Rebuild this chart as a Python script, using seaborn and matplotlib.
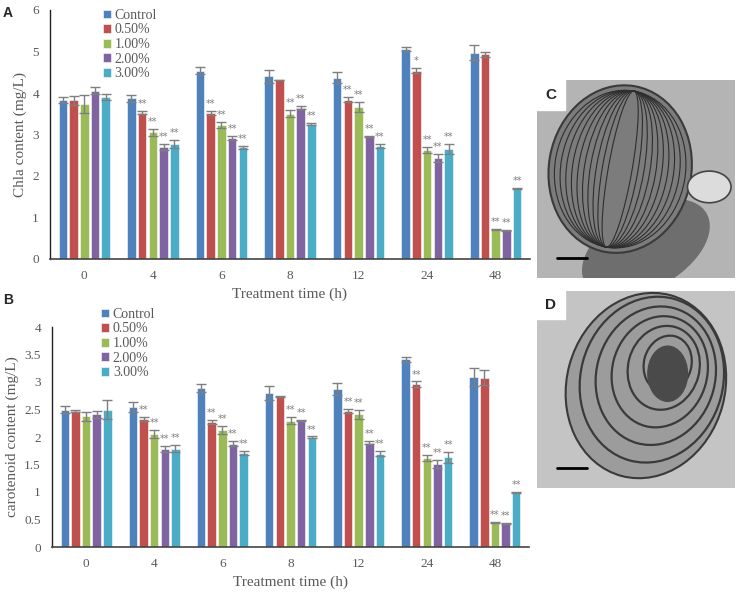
import numpy as np
import pandas as pd
import matplotlib
matplotlib.use("Agg")
import matplotlib.pyplot as plt
from matplotlib.patches import Ellipse, Rectangle
import seaborn as sns

# ---------------- data ----------------
times = ["0", "4", "6", "8", "12", "24", "48"]
groups = ["Control", "0.50%", "1.00%", "2.00%", "3.00%"]
colors = ["#4F81BD", "#C0504D", "#9BBB59", "#8064A2", "#4BACC6"]

chla_control = [3.83, 3.87, 4.54, 4.40, 4.37, 5.06, 4.97]
chla_050 = [3.82, 3.53, 3.51, 4.32, 3.84, 4.54, 4.93]
chla_100 = [3.74, 3.05, 3.23, 3.50, 3.67, 2.63, 0.72]
chla_200 = [4.06, 2.70, 2.91, 3.65, 2.95, 2.43, 0.69]
chla_300 = [3.90, 2.77, 2.69, 3.26, 2.73, 2.65, 1.70]

chla_err_control = [0.08, 0.09, 0.08, 0.15, 0.13, 0.04, 0.18]
chla_err_050 = [0.10, 0.04, 0.05, 0.00, 0.06, 0.06, 0.07]
chla_err_100 = [0.22, 0.08, 0.08, 0.08, 0.12, 0.08, 0.01]
chla_err_200 = [0.09, 0.08, 0.05, 0.03, 0.02, 0.10, 0.01]
chla_err_300 = [0.07, 0.09, 0.03, 0.02, 0.05, 0.12, 0.01]

car_control = [2.50, 2.55, 2.89, 2.80, 2.87, 3.41, 3.09]
car_050 = [2.47, 2.33, 2.27, 2.74, 2.47, 2.96, 3.08]
car_100 = [2.38, 2.06, 2.13, 2.30, 2.41, 1.62, 0.44]
car_200 = [2.41, 1.78, 1.88, 2.30, 1.90, 1.51, 0.43]
car_300 = [2.50, 1.79, 1.71, 2.00, 1.70, 1.63, 0.99]

car_err_control = [0.07, 0.09, 0.08, 0.12, 0.11, 0.04, 0.17]
car_err_050 = [0.02, 0.04, 0.04, 0.01, 0.04, 0.05, 0.13]
car_err_100 = [0.08, 0.07, 0.07, 0.07, 0.08, 0.06, 0.01]
car_err_200 = [0.06, 0.06, 0.05, 0.01, 0.02, 0.08, 0.01]
car_err_300 = [0.17, 0.07, 0.03, 0.01, 0.04, 0.10, 0.01]

sig_A_control = ["", "", "", "", "", "", ""]
sig_A_050 = ["", "**", "**", "", "**", "*", ""]
sig_A_100 = ["", "**", "**", "**", "**", "**", "**"]
sig_A_200 = ["", "**", "**", "**", "**", "**", "**"]
sig_A_300 = ["", "**", "**", "**", "**", "**", "**"]

sig_B_control = ["", "", "", "", "", "", ""]
sig_B_050 = ["", "**", "**", "", "**", "**", ""]
sig_B_100 = ["", "**", "**", "**", "**", "**", "**"]
sig_B_200 = ["", "**", "**", "**", "**", "**", "**"]
sig_B_300 = ["", "**", "**", "**", "**", "**", "**"]

chla_vals = [chla_control, chla_050, chla_100, chla_200, chla_300]
chla_errs = [chla_err_control, chla_err_050, chla_err_100, chla_err_200, chla_err_300]
car_vals = [car_control, car_050, car_100, car_200, car_300]
car_errs = [car_err_control, car_err_050, car_err_100, car_err_200, car_err_300]
sig_A = [sig_A_control, sig_A_050, sig_A_100, sig_A_200, sig_A_300]
sig_B = [sig_B_control, sig_B_050, sig_B_100, sig_B_200, sig_B_300]

# ---------------- style ----------------
sns.set_theme(style="white")
plt.rcParams["font.family"] = ["Liberation Serif", "DejaVu Serif"]
GRAY = "#595959"

W, H = 737, 597
fig = plt.figure(figsize=(W / 100, H / 100), dpi=100)


def frac_axes(x0, y0, x1, y1):
    return fig.add_axes([x0 / W, 1 - y1 / H, (x1 - x0) / W, (y1 - y0) / H])


def draw_panel(ax, vals, errs, sigs, ylim, yticks, ylabel, legend_anchor):
    rows = []
    for g, v in zip(groups, vals):
        for t, y in zip(times, v):
            rows.append({"time": t, "group": g, "value": y})
    df = pd.DataFrame(rows)
    sns.barplot(data=df, x="time", y="value", hue="group", order=times,
                hue_order=groups, palette=colors, errorbar=None,
                width=0.78, gap=0.2, saturation=1, ax=ax,
                edgecolor="white", linewidth=0.4)
    for cont, e, s in zip(ax.containers, errs, sigs):
        xs = [b.get_x() + b.get_width() / 2 for b in cont]
        ys = [b.get_height() for b in cont]
        ax.errorbar(xs, ys, yerr=e, fmt="none", ecolor="#7f7f7f",
                    elinewidth=1, capsize=3.3, capthick=1, zorder=5)
        for x, y, ee, txt in zip(xs, ys, e, s):
            if txt:
                ax.annotate(txt, (x, y + ee), xytext=(0, 5),
                            textcoords="offset points", ha="center",
                            va="center", fontsize=7, color="#7f7f7f",
                            family="DejaVu Sans")
    ax.set_xlim(-0.5, len(times) - 0.5)
    ax.set_ylim(*ylim)
    ax.set_yticks(yticks)
    ax.set_yticklabels([f"{t:g}" for t in yticks])
    ax.tick_params(axis="both", length=0, labelsize=9.5, colors=GRAY, pad=8)
    ax.set_xlabel("Treatment time (h)", fontsize=11, color=GRAY, labelpad=4)
    ax.set_ylabel(ylabel, fontsize=11, color=GRAY, labelpad=4)
    for sp in ["top", "right"]:
        ax.spines[sp].set_visible(False)
    ax.spines["left"].set_color("#222222")
    ax.spines["bottom"].set_color("#444444")
    ax.spines["left"].set_linewidth(1.0)
    ax.spines["bottom"].set_linewidth(1.2)
    leg = ax.legend(loc="upper left", bbox_to_anchor=legend_anchor,
                    bbox_transform=fig.transFigure, frameon=False,
                    fontsize=10, handlelength=0.6, handleheight=0.6,
                    handletextpad=0.25, labelspacing=0.11, borderpad=0)
    for t in leg.get_texts():
        t.set_color(GRAY)


axA = frac_axes(50, 10, 530, 259)
draw_panel(axA, chla_vals, chla_errs, sig_A, (0, 6), [0, 1, 2, 3, 4, 5, 6],
           "Chla content (mg/L)", (96 / W, 1 - 2 / H))

axB = frac_axes(52, 327, 529, 547)
draw_panel(axB, car_vals, car_errs, sig_B, (0, 4),
           [0, 0.5, 1, 1.5, 2, 2.5, 3, 3.5, 4],
           "carotenoid content (mg/L)", (94 / W, 1 - 301 / H))

fig.text(3 / W, 1 - 13 / H, "A", fontsize=10, fontweight="bold",
         family="Liberation Sans", va="center", ha="left")
fig.text(3 / W, 1 - 300 / H, "B", fontsize=10, fontweight="bold",
         family="Liberation Sans", va="center", ha="left")

# ---------------- micrograph panels (schematic) ----------------
axC = frac_axes(537, 80, 735, 278)
axC.set_xlim(0, 1)
axC.set_ylim(0, 1)
axC.axis("off")
axC.add_patch(Rectangle((0, 0), 1, 1, color="#b4b4b4"))
axC.add_patch(Ellipse((0.55, 0.15), 0.7, 0.4, angle=30, color="#6e6e6e"))
axC.add_patch(Ellipse((0.42, 0.55), 0.72, 0.85, angle=-10, color="#7c7c7c",
                      ec="#3a3a3a", lw=1.5))
for k in range(10):
    axC.add_patch(Ellipse((0.42, 0.55), 0.66 - k * 0.06, 0.8,
                          angle=-10, fill=False, ec="#2e2e2e", lw=0.8))
axC.add_patch(Ellipse((0.87, 0.46), 0.22, 0.16, color="#dcdcdc",
                      ec="#444444", lw=1.2))
axC.add_patch(Rectangle((0, 0.85), 0.14, 0.15, color="white"))
axC.plot([0.1, 0.25], [0.1, 0.1], color="black", lw=2)
axC.text(0.07, 0.925, "C", fontsize=11, fontweight="bold",
         family="Liberation Sans", va="center", ha="center")

axD = frac_axes(537, 291, 735, 488)
axD.set_xlim(0, 1)
axD.set_ylim(0, 1)
axD.axis("off")
axD.add_patch(Rectangle((0, 0), 1, 1, color="#c4c4c4"))
axD.add_patch(Ellipse((0.55, 0.52), 0.8, 0.95, angle=-15, color="#9c9c9c",
                      ec="#3a3a3a", lw=1.5))
for k in range(5):
    axD.add_patch(Ellipse((0.58 + k * 0.02, 0.55 + k * 0.02),
                          0.72 - k * 0.12, 0.85 - k * 0.14, angle=-15,
                          fill=False, ec="#3a3a3a", lw=1.6))
axD.add_patch(Ellipse((0.66, 0.58), 0.2, 0.28, color="#4a4a4a"))
axD.add_patch(Rectangle((0, 0.86), 0.14, 0.14, color="white"))
axD.plot([0.1, 0.25], [0.1, 0.1], color="black", lw=2)
axD.text(0.07, 0.93, "D", fontsize=11, fontweight="bold",
         family="Liberation Sans", va="center", ha="center")

fig.savefig("out.png", dpi=100, facecolor="white")
